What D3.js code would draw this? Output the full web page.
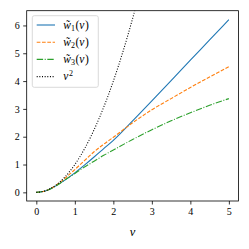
<!DOCTYPE html>
<html><head><meta charset="utf-8">
<script src="https://cdn.jsdelivr.net/npm/d3@7"></script>
<style>
html,body{margin:0;padding:0;background:#fff;}
svg{display:block;}
text{font-family:"Liberation Serif","DejaVu Serif",serif;}
</style></head>
<body>
<svg id="c" width="249" height="249"></svg>
<script>
const vs   = [0, 0.25, 0.5, 0.75, 1, 1.25, 1.5, 1.75, 2, 2.5, 3, 3.5, 4, 4.5, 5];
const w1   = [0, 0.06, 0.23, 0.45, 0.70, 0.98, 1.27, 1.57, 1.87, 2.57, 3.29, 4.02, 4.75, 5.48, 6.21];
const w2   = [0, 0.06, 0.24, 0.51, 0.82, 1.14, 1.46, 1.73, 1.98, 2.50, 2.97, 3.37, 3.77, 4.15, 4.52];
const w3   = [0, 0.06, 0.22, 0.45, 0.68, 0.91, 1.12, 1.33, 1.52, 1.90, 2.25, 2.57, 2.86, 3.13, 3.37];
const vsq  = [0, 0.0625, 0.25, 0.5625, 1, 1.5625, 2.25, 3.0625, 4, 6.25, 9];
const xTicks = [0, 1, 2, 3, 4, 5];
const yTicks = [0, 1, 2, 3, 4, 5, 6];
const labels = ["1", "2", "3"];

const svg = d3.select("#c");
const L = 26.7, R = 238.5, T = 10.7, B = 201;
const x = d3.scaleLinear().domain([-0.25, 5.25]).range([L, R]);
const y = d3.scaleLinear().domain([-0.311, 6.53]).range([B, T]);

svg.append("defs").append("clipPath").attr("id","clip")
  .append("rect").attr("x",L).attr("y",T).attr("width",R-L).attr("height",B-T);

const series = [
  {vals: w1, xs: vs, color:"#1f77b4", dash:null},
  {vals: w2, xs: vs, color:"#ff7f0e", dash:"3.7,1.6"},
  {vals: w3, xs: vs, color:"#2ca02c", dash:"6.4,1.6,1,1.6"},
  {vals: vsq, xs: vs.slice(0, vsq.length), color:"#000", dash:"1,1.65"}
];
const line = d3.line().curve(d3.curveMonotoneX);
const g = svg.append("g").attr("clip-path","url(#clip)");
series.forEach(s=>{
  g.append("path")
    .attr("d", line(s.xs.map((v,i)=>[x(v), y(s.vals[i])])))
    .attr("fill","none").attr("stroke",s.color).attr("stroke-width",1.1)
    .attr("stroke-dasharray", s.dash);
});

// axes
const xa = svg.append("g").attr("transform",`translate(0,${B})`)
  .call(d3.axisBottom(x).tickValues(xTicks).tickSize(3.5).tickPadding(3).tickFormat(d3.format("d")));
const ya = svg.append("g").attr("transform",`translate(${L},0)`)
  .call(d3.axisLeft(y).tickValues(yTicks).tickSize(3.5).tickPadding(3.5).tickFormat(d3.format("d")));
[xa,ya].forEach(a=>{
  a.select(".domain").remove();
  a.selectAll("line").attr("stroke","#000").attr("stroke-width",0.8);
  a.selectAll("text").attr("font-size",10).attr("fill","#000")
   .attr("font-family","'Liberation Serif','DejaVu Serif',serif");
});
svg.append("rect").attr("x",L).attr("y",T).attr("width",R-L).attr("height",B-T)
  .attr("fill","none").attr("stroke","#000").attr("stroke-width",0.8);

// x label
svg.append("text").attr("x",(L+R)/2).attr("y",235.5).attr("text-anchor","middle")
  .attr("font-size",12.5).attr("font-style","italic").text("v");

// legend
const lg = svg.append("g");
lg.append("rect").attr("x",32.3).attr("y",15.7).attr("width",66).attr("height",71.6)
  .attr("rx",2).attr("fill","#fff").attr("fill-opacity",0.8)
  .attr("stroke","#d0d0d0").attr("stroke-width",0.8);
const rowsY = [25, 42.2, 59.4, 76.6];
series.forEach((s,i)=>{
  lg.append("line").attr("x1",36.7).attr("x2",55).attr("y1",rowsY[i]).attr("y2",rowsY[i])
    .attr("stroke",s.color).attr("stroke-width",1.1).attr("stroke-dasharray",s.dash);
  const t = lg.append("text").attr("x",63.3).attr("y",rowsY[i]+3.5).attr("font-size",11.5);
  if (i < 3) {
    t.append("tspan").attr("font-style","italic").text("w\u0303");
    t.append("tspan").attr("font-size",8).attr("dy",2).text(labels[i]);
    t.append("tspan").attr("dy",-2).attr("dx",0.5).text("(");
    t.append("tspan").attr("font-style","italic").text("v");
    t.append("tspan").attr("dx",0.5).text(")");
  } else {
    t.append("tspan").attr("font-style","italic").text("v");
    t.append("tspan").attr("font-size",8).attr("dy",-4.5).attr("dx",0.5).text("2");
  }
});
</script>
</body></html>
